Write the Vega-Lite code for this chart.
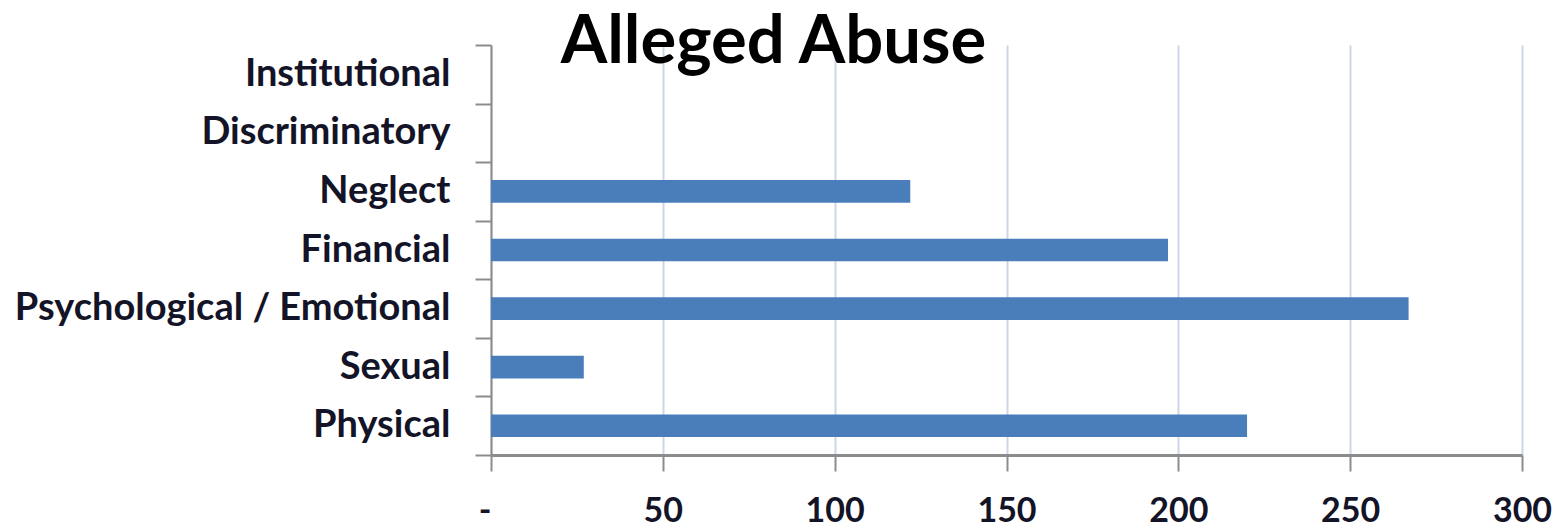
{
  "$schema": "https://vega.github.io/schema/vega-lite/v6.json",
  "width": 1031,
  "height": 410,
  "autosize": {"type": "none"},
  "padding": {"left": 491, "top": 45, "right": 40, "bottom": 74},
  "background": "white",
  "title": {
    "text": "Alleged Abuse",
    "font": "Lato",
    "fontWeight": "bold",
    "fontSize": 67,
    "color": "#000000",
    "anchor": "middle",
    "frame": "group",
    "dx": -233,
    "baseline": "alphabetic",
    "offset": -104
  },
  "data": {
    "values": [
      {"type": "Institutional", "count": 0},
      {"type": "Discriminatory", "count": 0},
      {"type": "Neglect", "count": 122},
      {"type": "Financial", "count": 197},
      {"type": "Psychological / Emotional", "count": 267},
      {"type": "Sexual", "count": 27},
      {"type": "Physical", "count": 220}
    ]
  },
  "mark": {"type": "bar", "color": "#4a7ebb", "height": {"band": 0.386}},
  "encoding": {
    "y": {
      "field": "type",
      "type": "nominal",
      "sort": ["Institutional", "Discriminatory", "Neglect", "Financial", "Psychological / Emotional", "Sexual", "Physical"],
      "scale": {"paddingInner": 0, "paddingOuter": 0},
      "axis": {
        "title": null,
        "grid": false,
        "tickBand": "extent",
        "tickSize": 16,
        "tickWidth": 2,
        "tickColor": "#8c8c8c",
        "domainColor": "#8c8c8c",
        "domainWidth": 2,
        "labelFont": "Lato",
        "labelFontWeight": "bold",
        "labelFontSize": 38,
        "labelColor": "#141428",
        "labelPadding": 25,
        "labelLimit": 600
      }
    },
    "x": {
      "field": "count",
      "type": "quantitative",
      "scale": {"domain": [0, 300], "nice": false},
      "axis": {
        "title": null,
        "values": [0, 50, 100, 150, 200, 250, 300],
        "labelExpr": "datum.value == 0 ? '-\u00a0' : datum.label",
        "labelAlign": {"condition": {"test": "datum.value == 0", "value": "right"}, "value": "center"},
        "grid": true,
        "gridColor": "#cdd6e8",
        "gridWidth": 2,
        "tickSize": 16,
        "tickWidth": 2,
        "tickColor": "#8c8c8c",
        "domainColor": "#8c8c8c",
        "domainWidth": 3,
        "labelFont": "Lato",
        "labelFontWeight": "bold",
        "labelFontSize": 34,
        "labelColor": "#141428",
        "labelPadding": 23,
        "labelFlush": false
      }
    }
  },
  "config": {"view": {"stroke": null}}
}
